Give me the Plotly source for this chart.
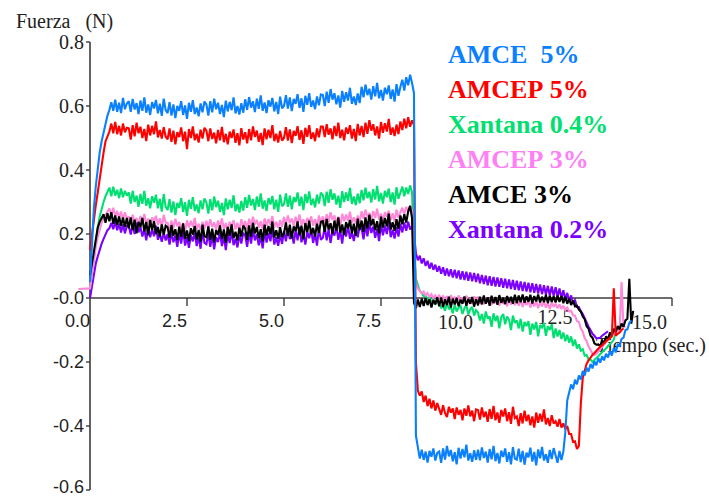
import plotly.graph_objects as go

# Force recordings in millinewtons, one sample every DT seconds (one row per second)
DT = 0.05

amce5_start = 0.0
amce5_mN = [
    50, 180, 280, 350, 410, 455, 490, 520, 550, 570, 588, 612, 585, 620, 582, 610, 578, 625, 590, 608,
    615, 582, 622, 589, 609, 575, 617, 585, 627, 579, 605, 572, 612, 592, 619, 577, 607, 569, 623, 587,
    578, 612, 570, 605, 562, 600, 585, 615, 572, 602, 560, 610, 582, 618, 575, 595, 568, 608, 580, 614,
    605, 570, 615, 580, 623, 590, 610, 575, 603, 565, 617, 583, 613, 587, 627, 577, 600, 573, 609, 579,
    621, 588, 628, 595, 615, 581, 623, 591, 633, 585, 611, 578, 618, 598, 625, 583, 613, 575, 629, 593,
    600, 634, 592, 627, 584, 622, 607, 637, 594, 624, 582, 632, 604, 640, 597, 617, 590, 630, 602, 636,
    635, 600, 645, 610, 653, 620, 640, 605, 633, 595, 647, 613, 643, 617, 657, 607, 630, 603, 639, 609,
    660, 627, 667, 634, 654, 620, 662, 630, 672, 624, 650, 617, 657, 637, 664, 622, 652, 614, 668, 632,
    660, 682, 648, 690, 665, 698, 672, 640, -430, -468, -502, -474, -506, -480, -514, -478, -496, -470, -508, -484,
    -480, -515, -470, -505, -462, -495, -475, -510, -482, -520, -468, -502, -472, -498, -458, -508, -485, -512, -476, -506,
    -474, -507, -467, -500, -480, -514, -472, -504, -462, -510, -484, -517, -477, -497, -470, -512, -482, -520, -466, -502,
    -505, -471, -513, -478, -521, -483, -498, -468, -511, -481, -523, -473, -501, -465, -508, -488, -515, -475, -503, -469,
    -490, -515, -478, -506, -480, -420, -320, -295, -270, -285, -255, -270, -242, -255, -228, -242, -218, -230, -206, -220,
    -198, -210, -188, -202, -182, -195, -174, -186, -166, -180, -156, -170, -146, -150, -128, -124, -100, -98, -78, -70,
]

amcep5_start = 0.0
amcep5_mN = [
    150, 200, 250, 290, 330, 375, 420, 455, 490, 505, 520, 545, 515, 550, 512, 538, 508, 545, 518, 532,
    530, 495, 540, 505, 548, 515, 535, 500, 528, 490, 542, 508, 538, 512, 552, 502, 525, 498, 534, 504,
    496, 530, 488, 523, 480, 518, 503, 533, 490, 520, 465, 528, 500, 536, 493, 513, 486, 526, 498, 532,
    523, 490, 530, 497, 517, 483, 525, 493, 535, 487, 513, 480, 520, 500, 527, 485, 515, 477, 531, 495,
    518, 483, 528, 493, 536, 503, 523, 488, 516, 478, 530, 496, 526, 500, 540, 490, 513, 486, 522, 492,
    500, 534, 492, 527, 484, 522, 507, 537, 494, 524, 482, 532, 504, 540, 497, 517, 490, 530, 502, 536,
    536, 503, 543, 510, 530, 496, 538, 506, 548, 500, 526, 493, 533, 513, 540, 498, 528, 490, 544, 508,
    538, 503, 548, 513, 556, 523, 543, 508, 536, 498, 550, 516, 546, 520, 560, 510, 533, 506, 542, 512,
    552, 525, 560, 530, 565, 535, 555, 540, -200, -290, -305, -292, -325, -305, -338, -315, -345, -320, -352, -328,
    -345, -365, -335, -360, -372, -340, -358, -345, -378, -342, -365, -350, -382, -345, -368, -336, -370, -352, -385, -348,
    -350, -380, -342, -372, -355, -387, -347, -378, -337, -382, -358, -390, -350, -370, -345, -385, -357, -393, -340, -375,
    -370, -400, -360, -392, -352, -385, -365, -398, -370, -405, -358, -390, -362, -386, -348, -395, -375, -400, -366, -392,
    -385, -402, -378, -405, -392, -410, -400, -425, -425, -450, -448, -472, -462, -330, -250, -225, -205, -195, -185, -178,
    -172, -165, -160, -152, -148, -140, -135, -130, -125, -120, 30, -118, -112, -108, -100, -95,
]

xantana04_start = 0.0
xantana04_mN = [
    30, 80, 130, 180, 220, 255, 280, 300, 318, 330, 345, 318, 348, 320, 338, 312, 342, 315, 335, 320,
    330, 295, 335, 300, 320, 285, 325, 294, 335, 288, 312, 280, 318, 298, 323, 280, 310, 270, 325, 285,
    275, 309, 267, 302, 259, 297, 282, 312, 269, 299, 257, 307, 279, 315, 272, 292, 265, 305, 277, 311,
    299, 264, 309, 274, 317, 284, 304, 269, 297, 259, 311, 277, 307, 281, 321, 271, 294, 267, 303, 273,
    315, 282, 322, 289, 309, 275, 317, 285, 327, 279, 305, 272, 312, 292, 319, 277, 307, 269, 323, 287,
    293, 327, 285, 320, 277, 315, 300, 330, 287, 317, 275, 325, 297, 333, 290, 310, 283, 323, 295, 329,
    322, 287, 332, 297, 340, 307, 327, 292, 320, 282, 334, 300, 330, 304, 344, 294, 317, 290, 326, 296,
    338, 305, 345, 312, 332, 298, 340, 308, 350, 302, 328, 295, 335, 315, 342, 300, 330, 292, 346, 310,
    330, 348, 318, 345, 325, 352, 330, 150, 60, 40, 22, 15, 5, 8, -5, 0, -12, -5, -18, -10,
    -18, -30, -22, -40, -15, -35, -28, -48, -20, -42, -30, -25, -50, -32, -22, -52, -35, -28, -55, -38,
    -45, -70, -50, -80, -42, -65, -58, -90, -48, -72, -55, -95, -60, -50, -82, -58, -68, -100, -55, -78,
    -70, -95, -65, -105, -75, -88, -72, -115, -80, -98, -75, -120, -85, -92, -78, -118, -88, -100, -82, -125,
    -95, -120, -100, -128, -108, -135, -115, -140, -120, -150, -130, -158, -145, -165, -160, -180, -178, -192, -192, -200,
    -195, -188, -182, -175, -170, -165, -158, -150, -145, -138, -130, -105, -95,
]

amcep3_start = -0.3
amcep3_mN = [
    28, 28, 28, 28, 28, 28,
    30, 75, 120, 160, 190, 215, 235, 250, 262, 270, 280, 258, 282, 255, 272, 250, 270, 245, 268, 248,
    255, 232, 260, 236, 250, 227, 256, 234, 263, 229, 248, 224, 252, 238, 257, 228, 249, 222, 260, 235,
    235, 210, 242, 218, 248, 224, 238, 214, 234, 207, 243, 220, 241, 222, 250, 215, 232, 213, 238, 217,
    241, 218, 246, 222, 236, 213, 242, 220, 249, 215, 234, 210, 238, 224, 243, 214, 235, 208, 246, 221,
    241, 216, 248, 224, 254, 230, 244, 220, 240, 213, 249, 226, 247, 228, 256, 221, 238, 219, 244, 223,
    253, 230, 258, 234, 248, 225, 254, 232, 261, 227, 246, 222, 250, 236, 255, 226, 247, 220, 258, 233,
    255, 230, 262, 238, 268, 244, 258, 234, 254, 227, 263, 240, 261, 242, 270, 235, 252, 233, 258, 237,
    271, 248, 276, 252, 266, 243, 272, 250, 279, 245, 264, 240, 268, 254, 273, 244, 265, 238, 276, 251,
    268, 282, 262, 285, 270, 288, 272, 120, 45, 30, 22, 14, 20, 8, 15, 4, 12, 0, 8, -2,
    10, -8, 8, -12, 6, -14, 9, -6, 4, -16, 8, -10, 2, -14, 7, -5, -2, -18, 5, -10,
    4, -18, 0, -20, 2, -14, -4, -22, 0, -16, -6, -24, -2, -18, -8, -26, -4, -20, -10, -22,
    -4, -24, -6, -28, -10, -22, -5, -30, -12, -26, -8, -32, -14, -26, -10, -30, -16, -34, -12, -28,
    -18, -32, -20, -34, -24, -38, -30, -42, -40, -54, -55, -72, -75, -95, -105, -125, -135, -152, -162, -174,
    -178, -175, -168, -160, -152, -144, -135, -128, -122, -116, -112, -108, -104, -100, 50, -92, -88,
]

amce3_start = 0.0
amce3_mN = [
    70, 110, 150, 190, 220, 238, 248, 262, 235, 265, 240, 268, 232, 258, 228, 255, 225, 252, 222, 250,
    218, 252, 212, 245, 202, 238, 222, 250, 208, 238, 196, 244, 212, 240, 200, 222, 192, 230, 198, 226,
    221, 188, 228, 195, 215, 181, 223, 191, 233, 185, 211, 178, 218, 198, 225, 183, 213, 175, 229, 193,
    190, 224, 182, 217, 174, 212, 197, 227, 184, 214, 172, 222, 194, 230, 187, 207, 180, 220, 192, 226,
    217, 182, 227, 192, 235, 202, 222, 187, 215, 177, 229, 195, 225, 199, 239, 189, 212, 185, 221, 191,
    202, 236, 194, 229, 186, 224, 209, 239, 196, 226, 184, 234, 206, 242, 199, 219, 192, 232, 204, 238,
    240, 207, 247, 214, 234, 200, 242, 210, 252, 204, 230, 197, 237, 217, 244, 202, 232, 194, 248, 212,
    242, 207, 252, 217, 260, 227, 247, 212, 240, 202, 254, 220, 250, 224, 264, 214, 237, 210, 246, 216,
    258, 230, 262, 236, 270, 288, 250, -15, -32, -5, -28, -2, -25, 0, -22, -4, -30, -6, -20, 2,
    -26, 2, -28, -4, -22, 4, -30, -2, -20, 0, -26, -5, -18, 5, -24, -3, -18, 3, -27, -4,
    -22, 4, -20, 8, -18, 2, -24, 7, -16, 3, -21, 9, -15, 1, -19, 6, -14, 4, -18, 10,
    -16, 8, -13, 11, -15, 5, -12, 10, -17, 6, -11, 11, -14, 4, -13, 9, -16, 7, -12, 5,
    -14, 8, -12, 6, -16, 4, -18, -2, -22, -8, -26, -24, -36, -42, -58, -66, -88, -96, -118, -124,
    -142, -146, -145, -150, -132, -142, -120, -130, -108, -118, -96, -106, -88, -98, -80, -90, -70, -65, 60, -80, -40,
]

xantana02_start = 0.0
xantana02_mN = [
    0, 40, 80, 108, 130, 152, 170, 185, 200, 212, 218, 235, 215, 240, 212, 232, 205, 230, 202, 225,
    225, 198, 230, 200, 238, 205, 222, 192, 215, 180, 222, 190, 215, 193, 226, 182, 200, 176, 205, 180,
    200, 167, 207, 174, 194, 160, 202, 170, 212, 164, 190, 157, 197, 177, 204, 162, 192, 154, 208, 172,
    168, 202, 160, 195, 152, 190, 175, 205, 162, 192, 150, 200, 172, 208, 165, 185, 158, 198, 170, 204,
    195, 160, 205, 170, 213, 180, 200, 165, 193, 155, 207, 173, 203, 177, 217, 167, 190, 163, 199, 169,
    210, 177, 217, 184, 204, 170, 212, 180, 222, 174, 200, 167, 207, 187, 214, 172, 202, 164, 218, 182,
    188, 222, 180, 215, 172, 210, 195, 225, 182, 212, 170, 220, 192, 228, 185, 205, 178, 218, 190, 224,
    218, 183, 228, 193, 236, 203, 223, 188, 216, 178, 230, 196, 226, 200, 240, 190, 213, 186, 222, 192,
    232, 205, 236, 210, 238, 214, 225, 200, 140, 118, 132, 108, 124, 100, 116, 92, 110, 88, 104, 82,
    100, 76, 96, 70, 92, 68, 90, 64, 88, 62, 86, 58, 84, 56, 82, 54, 80, 52, 78, 50,
    76, 46, 72, 44, 70, 40, 68, 38, 66, 36, 64, 35, 62, 32, 60, 30, 58, 28, 56, 26,
    54, 24, 52, 22, 50, 20, 48, 18, 46, 16, 44, 14, 42, 12, 40, 10, 38, 8, 36, 6,
    34, 4, 30, 0, 24, -4, 16, -10, 8, -18, -6, -28, -28, -42, -50, -64, -75, -90, -100, -112,
    -118, -126, -126, -124, -118, -114, -108, -104,
]

series_names = ["AMCE  5%", "AMCEP 5%", "Xantana 0.4%", "AMCEP 3%", "AMCE 3%", "Xantana 0.2%"]
series_data = [amce5_mN, amcep5_mN, xantana04_mN, amcep3_mN, amce3_mN, xantana02_mN]
series_start = [amce5_start, amcep5_start, xantana04_start, amcep3_start, amce3_start, xantana02_start]
line_colors = ["#0a80ff", "#ff0000", "#00e070", "#ff88d8", "#000000", "#7b00ff"]
label_colors = ["#0a80ff", "#ff0000", "#00e070", "#ff80f4", "#000000", "#7b00ff"]
draw_order = [5, 2, 3, 4, 1, 0]

y_ticks = [0.8, 0.6, 0.4, 0.2, 0.0, -0.2, -0.4, -0.6]
y_tick_text = ["0.8", "0.6", "0.4", "0.2", "-0.0", "-0.2", "-0.4", "-0.6"]
x_ticks = [0.0, 2.5, 5.0, 7.5, 10.0, 12.5, 15.0]
x_tick_text = ["0.0", "2.5", "5.0", "7.5", "10.0", "12.5", "15.0"]

SERIF = "Liberation Serif, Times New Roman, serif"
SANS = "Liberation Sans, Arial, sans-serif"
W, H = 709, 496
PX_S = 38.8    # pixels per second
PX_N = 320.0   # pixels per newton
X0_PX, Y0_PX = 90, 298
AXIS_COLOR = "#3c3c3c"

fig = go.Figure()

# labels that sit underneath the curves
fig.add_trace(go.Scatter(
    x=[12.5 - 2.5 / PX_S], y=[-11 / PX_N], mode="text", text=[x_tick_text[5]],
    textposition="bottom left", textfont=dict(family=SERIF, size=20, color="#222"),
    hoverinfo="skip", showlegend=False))
fig.add_trace(go.Scatter(
    x=[(706 - X0_PX) / PX_S], y=[(Y0_PX - 347) / PX_N], mode="text", text=["Tiempo (sec.)"],
    textposition="middle left", textfont=dict(family=SERIF, size=20, color="#222"),
    hoverinfo="skip", showlegend=False))

for i in draw_order:
    vals = series_data[i]
    t = [series_start[i] + k * DT for k in range(len(vals))]
    fig.add_trace(go.Scatter(
        x=t, y=[v / 1000 for v in vals], mode="lines", name=series_names[i],
        line=dict(color=line_colors[i], width=2.1), showlegend=False))

shapes = [
    dict(type="line", xref="x", yref="y", x0=0, x1=0, y0=-0.6, y1=0.8,
         line=dict(color=AXIS_COLOR, width=1.6), layer="below"),
    dict(type="line", xref="x", yref="y", x0=0, x1=15, y0=0, y1=0,
         line=dict(color=AXIS_COLOR, width=1.6), layer="below"),
]
for v in y_ticks:
    shapes.append(dict(type="line", xref="x", yref="y", x0=-4 / PX_S, x1=0, y0=v, y1=v,
                       line=dict(color=AXIS_COLOR, width=1.4), layer="below"))
for v in x_ticks[1:]:
    shapes.append(dict(type="line", xref="x", yref="y", x0=v, x1=v, y0=0, y1=-8 / PX_N,
                       line=dict(color=AXIS_COLOR, width=1.4), layer="below"))

annotations = []
for v, txt in zip(y_ticks, y_tick_text):
    serif = v > 0.3
    annotations.append(dict(
        x=0, y=v, xref="x", yref="y", text=txt, showarrow=False,
        xanchor="right", yanchor="middle", xshift=-4, yshift=3 if v < -0.5 else 0,
        font=dict(family=SERIF if serif else SANS, size=20 if serif else 18, color="#222")))
for v, txt in zip(x_ticks, x_tick_text):
    if v == 12.5:
        continue
    serif = v >= 10
    annotations.append(dict(
        x=v, y=0, xref="x", yref="y", text=txt, showarrow=False,
        xanchor="right", yanchor="top", xshift=-3 if serif else 2, yshift=-11,
        font=dict(family=SERIF if serif else SANS, size=20 if serif else 18, color="#222")))

annotations.append(dict(
    x=14 / W, y=1 - 21 / H, xref="paper", yref="paper",
    text="Fuerza\u00a0\u00a0\u00a0(N)", showarrow=False, xanchor="left", yanchor="middle",
    font=dict(family=SERIF, size=20, color="#222")))

for k, (name, col) in enumerate(zip(series_names, label_colors)):
    annotations.append(dict(
        x=446 / W, y=1 - (55 + 35 * k) / H, xref="paper", yref="paper",
        text="<b>" + name.replace(" ", "\u00a0") + "</b>", showarrow=False,
        xanchor="left", yanchor="middle",
        font=dict(family=SERIF, size=26, color=col)))

fig.update_layout(
    width=W, height=H,
    margin=dict(l=0, r=0, t=0, b=0),
    paper_bgcolor="white", plot_bgcolor="white",
    xaxis=dict(range=[-X0_PX / PX_S, (W - X0_PX) / PX_S], visible=False, fixedrange=True),
    yaxis=dict(range=[(Y0_PX - H) / PX_N, Y0_PX / PX_N], visible=False, fixedrange=True),
    shapes=shapes, annotations=annotations, showlegend=False,
)

fig.write_html("out.html")
